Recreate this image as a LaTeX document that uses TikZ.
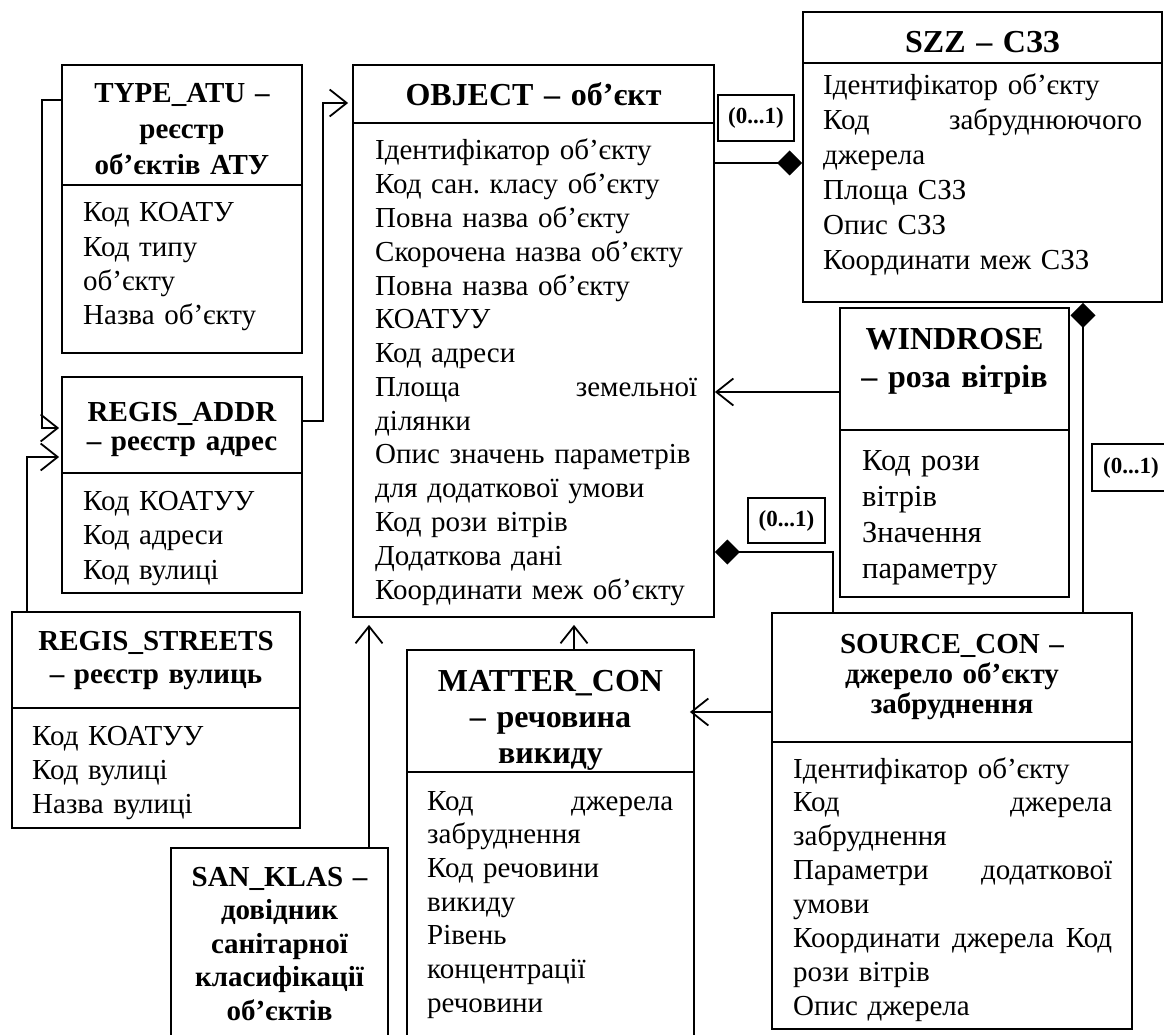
\documentclass[tikz,border=0pt]{standalone}
\usepackage{fontspec}
\setmainfont{Liberation Serif}
\usetikzlibrary{arrows.meta}
\frenchspacing
\tikzset{
  ent/.style={draw, line width=1.8pt, inner sep=0pt},
  divline/.style={line width=1.8pt},
  ttl/.style={anchor=base, inner sep=0pt, align=center, font=\bfseries\fontsize{29pt}{#1}\selectfont},
  bttl/.style={anchor=base, inner sep=0pt, align=center, font=\bfseries\fontsize{32pt}{#1}\selectfont},
  body/.style={anchor=base west, inner sep=0pt, align=left, font=\fontsize{29pt}{#1}\selectfont},
  conn/.style={line width=1.8pt},
  opn/.style={-{Straight Barb[length=17pt,width=27pt]}},
  dia/.style={-{Diamond[length=25pt,width=25pt]}},
  lab/.style={draw, line width=1.5pt, inner sep=0pt, font=\bfseries\fontsize{23pt}{26pt}\selectfont}
}
\begin{document}
\begin{tikzpicture}[x=1pt,y=-1pt]
\path[use as bounding box, fill=white] (0,0) rectangle (1164,1035);

% TYPE_ATU
\node[ent, minimum width=240pt, minimum height=288pt] (typeatu) at (182,209) {};
\draw[divline] (typeatu.west |- 0,185) -- (typeatu.east |- 0,185);
\node[ttl=36pt, text width=230pt] (typeatut) at (182,103) {TYPE\_ATU –\\ реєстр\\ об’єктів АТУ};
\node[body=34.3pt, text width=215pt] (typeatub) at (83,222) {Код КОАТУ\\ Код типу\\ об’єкту\\ Назва об’єкту};

% REGIS_ADDR
\node[ent, minimum width=240pt, minimum height=216pt] (regaddr) at (182,485) {};
\draw[divline] (regaddr.west |- 0,473) -- (regaddr.east |- 0,473);
\node[ttl=29pt, text width=230pt] (regaddrt) at (182,421) {REGIS\_ADDR\\ – реєстр адрес};
\node[body=34.5pt, text width=215pt] (regaddrb) at (83,510) {Код КОАТУУ\\ Код адреси\\ Код вулиці};

% REGIS_STREETS
\node[ent, minimum width=288pt, minimum height=216pt] (regstr) at (156,720) {};
\draw[divline] (regstr.west |- 0,708) -- (regstr.east |- 0,708);
\node[ttl=33pt, text width=280pt] (regstrt) at (156,650) {REGIS\_STREETS\\ – реєстр вулиць};
\node[body=34pt, text width=260pt] (regstrb) at (32,745) {Код КОАТУУ\\ Код вулиці\\ Назва вулиці};

% OBJECT
\node[ent, minimum width=361pt, minimum height=552pt] (obj) at (533.5,341) {};
\draw[divline] (obj.west |- 0,123) -- (obj.east |- 0,123);
\node[bttl=38pt, text width=350pt] (objt) at (533.5,106) {OBJECT – об’єкт};
\node[body=33.77pt, text width=322pt] (objb) at (375,160) {Ідентифікатор об’єкту\\ Код сан. класу об’єкту\\ Повна назва об’єкту\\ Скорочена назва об’єкту\\ Повна назва об’єкту\\ КОАТУУ\\ Код адреси\\ Площа\hfill земельної\\ ділянки\\ Опис значень параметрів\\ для додаткової умови\\ Код рози вітрів\\ Додаткова дані\\ Координати меж об’єкту};

% SZZ
\node[ent, minimum width=359pt, minimum height=290pt] (szz) at (982.5,157) {};
\draw[divline] (szz.west |- 0,63) -- (szz.east |- 0,63);
\node[bttl=38pt, text width=350pt] (szzt) at (982.5,53) {SZZ – СЗЗ};
\node[body=35pt, text width=319pt] (szzb) at (823,95) {Ідентифікатор об’єкту\\ Код\hfill забруднюючого\\ джерела\\ Площа СЗЗ\\ Опис СЗЗ\\ Координати меж СЗЗ};

% WINDROSE
\node[ent, minimum width=229pt, minimum height=289pt] (wind) at (954.5,452.5) {};
\draw[divline] (wind.west |- 0,430) -- (wind.east |- 0,430);
\node[bttl=38pt, text width=220pt] (windt) at (954.5,349) {WINDROSE\\ – роза вітрів};
\node[anchor=base west, inner sep=0pt, align=left, text width=200pt, font=\fontsize{30.5pt}{36pt}\selectfont] (windb) at (862,470) {Код рози\\ вітрів\\ Значення\\ параметру};

% MATTER_CON
\node[ent, minimum width=287pt, minimum height=395pt] (matter) at (550.5,847.5) {};
\draw[divline] (matter.west |- 0,772) -- (matter.east |- 0,772);
\node[bttl=36pt, text width=280pt] (mattert) at (550.5,691) {MATTER\_CON\\ – речовина\\ викиду};
\node[body=33.7pt, text width=246pt] (matterb) at (427,810) {Код\hfill джерела\\ забруднення\\ Код речовини\\ викиду\\ Рівень\\ концентрації\\ речовини};

% SOURCE_CON
\node[ent, minimum width=360pt, minimum height=416pt] (src) at (952,821) {};
\draw[divline] (src.west |- 0,742) -- (src.east |- 0,742);
\node[ttl=30pt, text width=350pt] (srct) at (952,653) {SOURCE\_CON –\\ джерело об’єкту\\ забруднення};
\node[body=33.9pt, text width=319pt] (srcb) at (793,778) {Ідентифікатор об’єкту\\ Код\hfill джерела\\ забруднення\\ Параметри\hfill додаткової\\ умови\\ Координати\hfill джерела\hfill Код\\ рози вітрів\\ Опис джерела};

% SAN_KLAS
\node[ent, minimum width=217pt, minimum height=197pt] (sanklas) at (279.5,946.5) {};
\node[ttl=33.5pt, text width=210pt] (sanklast) at (279.5,886) {SAN\_KLAS –\\ довідник\\ санітарної\\ класифікації\\ об’єктів};

% multiplicity labels
\node[lab, minimum width=76pt, minimum height=46pt] (l1) at (756,118) {(0...1)};
\node[lab, minimum width=77pt, minimum height=45pt] (l2) at (786.5,520.5) {(0...1)};
\node[lab, minimum width=78pt, minimum height=47pt] (l3) at (1131,467.5) {(0...1)};

% connectors
\draw[conn, opn, shorten >=2pt] (typeatu.west |- 0,100) -- (42,100) -- (42,428) -- (regaddr.west |- 0,428);
\draw[conn, opn, shorten >=2pt] (regstr.north -| 27,0) -- (27,457) -- (regaddr.west |- 0,457);
\draw[conn, opn, shorten >=4pt] (regaddr.east |- 0,421) -- (323,421) -- (323,103) -- (obj.west |- 0,103);
\draw[conn, dia] (obj.east |- 0,163) -- (szz.west |- 0,163);
\draw[conn, opn] (wind.west |- 0,392) -- (obj.east |- 0,392);
\draw[conn, dia] (src.north -| 1083,0) -- (szz.south -| 1083,0);
\draw[conn, dia] (src.north -| 833,0) -- (833,552) -- (obj.east |- 0,552);
\draw[conn, opn, shorten >=-5pt] (src.west |- 0,712) -- (matter.east |- 0,712);
\draw[conn, opn, shorten >=7pt] (matter.north -| 574,0) -- (obj.south -| 574,0);
\draw[conn, opn, shorten >=7pt] (sanklas.north -| 369,0) -- (obj.south -| 369,0);
\end{tikzpicture}
\end{document}
